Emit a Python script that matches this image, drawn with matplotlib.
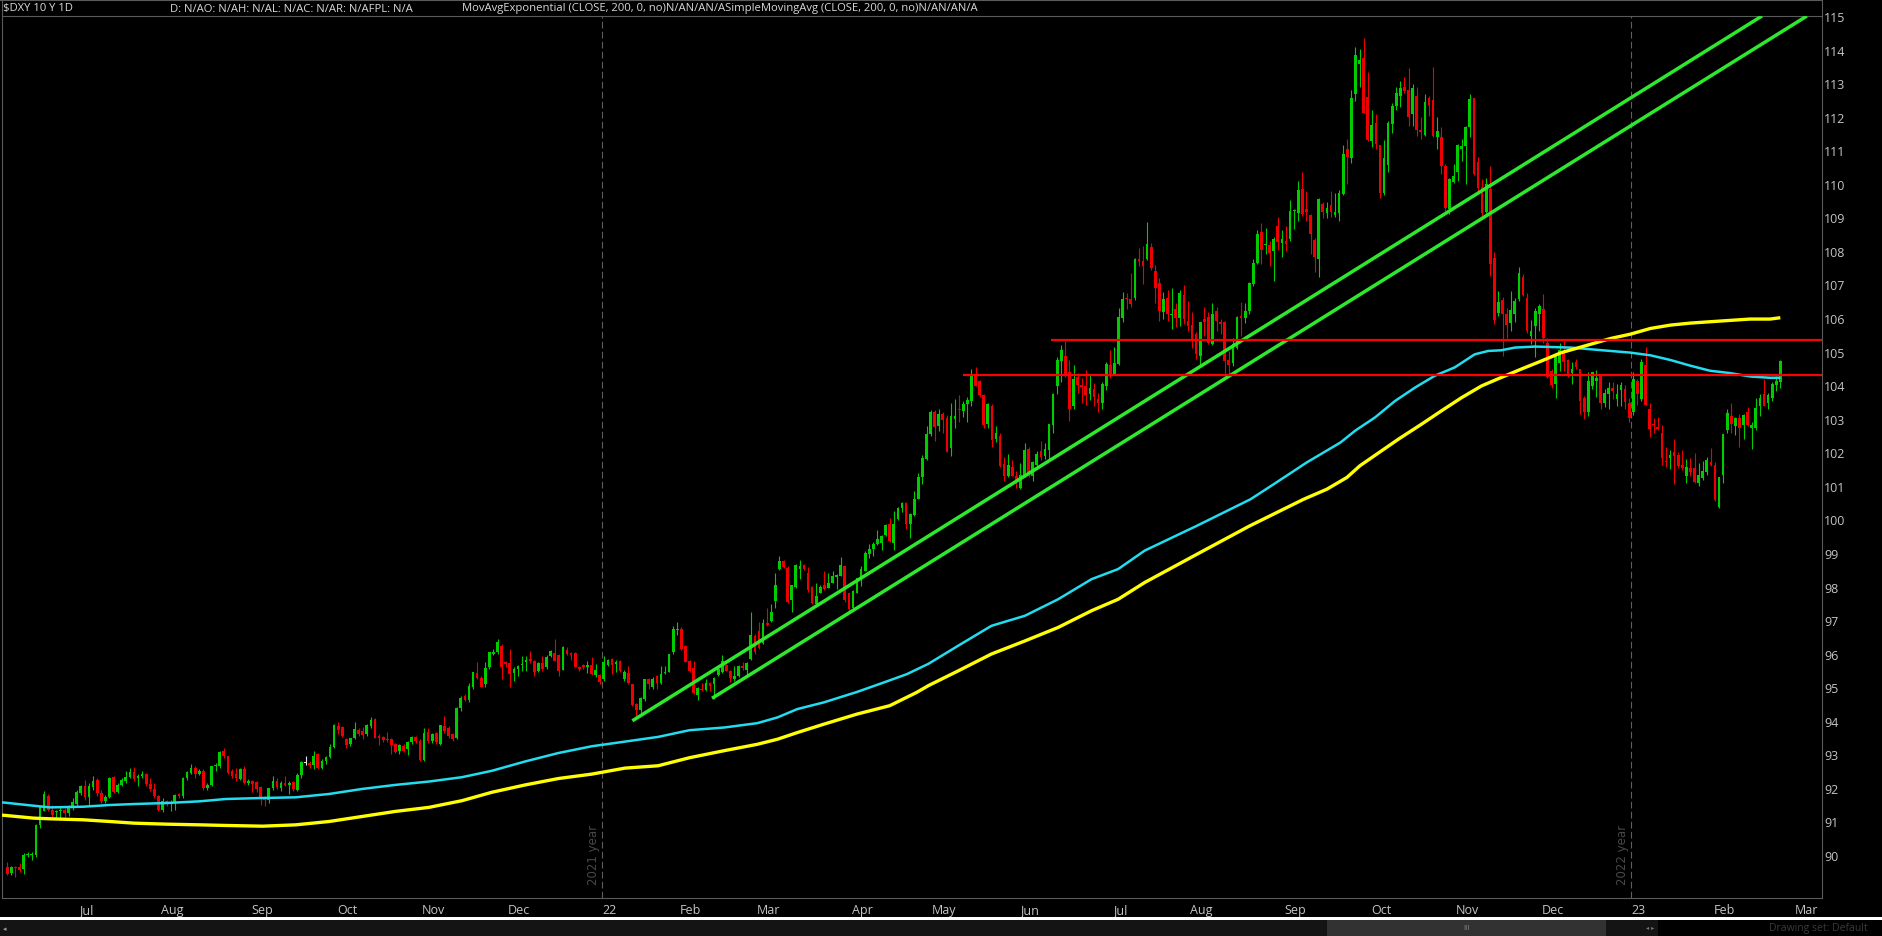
import numpy as np
import pandas as pd
import matplotlib
matplotlib.use("Agg")
import matplotlib.pyplot as plt
from matplotlib.patches import Rectangle
from matplotlib.lines import Line2D

plt.rcParams['font.family'] = ['Liberation Sans Narrow', 'Open Sans', 'DejaVu Sans']

# ---------------- text ----------------
HEAD_SYMBOL = "$DXY 10 Y 1D"
HEAD_QUOTE = "D: N/AO: N/AH: N/AL: N/AC: N/AR: N/AFPL: N/A"
HEAD_STUDIES = "MovAvgExponential (CLOSE, 200, 0, no)N/AN/AN/ASimpleMovingAvg (CLOSE, 200, 0, no)N/AN/AN/A"
YEAR_TEXT = ["2021 year", "2022 year"]
Y_TICKS = list(range(90, 116))

# ---------------- calendar ----------------
FIRST_DAY = "2021-06-07"
LAST_AXIS_DAY = "2023-03-31"
HOLIDAYS = ["2021-07-05", "2021-09-06", "2021-11-25", "2021-12-24", "2022-01-17",
            "2022-02-21", "2022-04-15", "2022-05-30", "2022-07-04", "2022-09-05",
            "2022-11-24", "2022-12-26", "2023-01-02"]

# ---------------- daily OHLC ----------------
OPEN = [
89.63, 89.46, 89.63, 89.63, 89.57, 90.00, 90.00, 90.00, 90.90, 91.32,
91.75, 91.35, 91.27, 91.30, 91.35, 91.25, 91.40, 91.52, 91.85, 92.07,
91.72, 92.02, 92.25, 91.85, 91.60, 91.72, 92.32, 91.89, 92.09, 92.20,
92.32, 92.47, 92.30, 92.35, 92.42, 92.12, 91.97, 91.75, 91.35, 91.60,
91.55, 91.55, 91.82, 91.75, 92.29, 92.45, 92.60, 92.40, 92.50, 92.00,
92.10, 92.64, 92.66, 93.09, 92.94, 92.49, 92.41, 92.27, 92.56, 92.15,
92.22, 92.19, 92.02, 91.72, 91.65, 92.00, 92.22, 92.00, 92.15, 92.10,
92.17, 91.95, 92.38, 92.75, 92.74, 92.68, 93.00, 92.59, 92.79, 92.91,
93.21, 93.85, 93.83, 93.46, 93.31, 93.49, 93.73, 93.71, 93.60, 93.85,
94.05, 93.56, 93.51, 93.47, 93.46, 93.31, 93.10, 93.26, 93.16, 93.36,
93.51, 93.40, 92.83, 93.68, 93.41, 93.64, 93.31, 93.85, 93.80, 93.61,
93.49, 94.37, 94.73, 94.63, 95.00, 95.42, 95.29, 95.09, 95.59, 95.98,
96.04, 96.23, 95.74, 95.72, 95.42, 95.54, 95.66, 95.74, 95.84, 95.79,
95.49, 95.72, 95.59, 95.92, 96.02, 95.96, 95.52, 96.12, 96.02, 96.02,
95.59, 95.66, 95.60, 95.66, 95.36, 95.36, 95.24, 95.66, 95.84, 95.69,
95.79, 95.26, 95.42, 95.09, 94.50, 94.33, 94.65, 95.24, 95.00, 95.32,
95.14, 95.42, 95.46, 96.04, 96.71, 96.75, 96.22, 95.79, 95.56, 94.77,
94.96, 94.92, 95.14, 95.09, 95.36, 95.44, 95.66, 95.49, 95.26, 95.34,
95.64, 95.52, 95.84, 96.53, 96.68, 96.33, 96.91, 96.98, 97.57, 98.52,
98.76, 98.55, 97.60, 98.00, 98.52, 98.64, 98.40, 98.00, 97.48, 97.82,
98.04, 97.97, 98.12, 98.27, 98.32, 98.60, 97.80, 97.35, 97.82, 98.24,
98.47, 98.97, 99.13, 99.26, 99.31, 99.53, 99.86, 99.31, 100.01, 100.33,
100.50, 99.86, 100.13, 100.62, 101.25, 101.80, 102.54, 103.19, 102.79, 103.14,
103.01, 102.14, 102.99, 103.30, 103.23, 103.43, 103.53, 104.28, 104.13, 103.70,
102.84, 103.38, 102.41, 102.49, 101.65, 101.28, 101.55, 101.28, 100.95, 101.28,
102.09, 101.28, 101.62, 102.03, 101.90, 102.07, 102.81, 103.98, 104.73, 104.87,
104.38, 103.38, 104.23, 104.00, 103.98, 103.73, 103.90, 103.58, 103.46, 103.98,
104.60, 104.33, 104.63, 105.99, 106.61, 106.56, 106.61, 107.77, 107.70, 107.77,
108.13, 107.41, 107.04, 106.18, 106.61, 106.09, 106.27, 105.99, 106.68, 105.92,
105.79, 105.52, 104.87, 105.97, 106.02, 105.22, 106.20, 105.89, 105.87, 104.75,
104.66, 105.12, 106.05, 105.99, 106.20, 107.01, 107.65, 108.55, 108.17, 108.17,
108.00, 108.73, 108.25, 108.30, 108.35, 109.19, 109.12, 109.86, 109.26, 109.06,
108.33, 107.77, 109.39, 109.12, 109.36, 109.06, 109.12, 109.69, 111.03, 110.78,
112.67, 113.58, 113.74, 112.59, 111.28, 111.80, 111.16, 109.74, 110.56, 111.78,
112.32, 112.62, 112.89, 112.79, 112.09, 112.62, 111.60, 111.46, 112.55, 112.49,
111.40, 111.38, 110.53, 109.24, 110.04, 110.34, 111.03, 111.13, 111.68, 112.55,
110.66, 109.91, 109.17, 109.84, 107.80, 106.16, 106.53, 106.11, 105.84, 106.11,
106.56, 107.23, 106.61, 105.47, 105.77, 106.13, 106.26, 105.27, 104.43, 104.03,
104.67, 105.02, 104.74, 104.36, 104.68, 104.48, 103.63, 103.19, 103.98, 104.13,
104.28, 103.46, 103.73, 103.93, 103.60, 103.86, 103.90, 103.48, 103.20, 104.13,
103.58, 104.60, 103.29, 102.84, 102.76, 102.59, 101.75, 101.82, 102.00, 101.91,
101.62, 101.28, 101.52, 101.52, 101.08, 101.22, 101.42, 101.72, 101.62, 100.36,
101.32, 102.67, 103.07, 102.79, 103.01, 102.81, 103.19, 102.71, 102.71, 103.38,
103.73, 103.46, 103.63, 104.00, 104.08]

HIGH = [
89.78, 89.66, 89.66, 89.75, 90.06, 90.08, 90.10, 90.93, 91.45, 91.92,
91.82, 91.50, 91.35, 91.45, 91.40, 91.50, 91.70, 91.95, 92.10, 92.25,
92.15, 92.35, 92.30, 91.95, 91.80, 92.32, 92.35, 92.15, 92.30, 92.50,
92.60, 92.62, 92.40, 92.50, 92.45, 92.30, 92.15, 91.80, 91.70, 91.65,
91.65, 91.82, 91.85, 92.32, 92.50, 92.70, 92.65, 92.55, 92.55, 92.15,
92.66, 92.75, 93.10, 93.20, 92.95, 92.55, 92.60, 92.60, 92.66, 92.27,
92.25, 92.20, 92.05, 91.75, 92.00, 92.35, 92.30, 92.20, 92.37, 92.20,
92.20, 92.45, 92.80, 92.95, 92.80, 93.10, 93.05, 92.85, 92.96, 93.30,
93.90, 93.95, 93.85, 93.50, 93.50, 93.95, 93.80, 93.83, 93.90, 94.10,
94.08, 93.60, 93.55, 93.68, 93.50, 93.33, 93.30, 93.30, 93.40, 93.55,
93.55, 93.45, 93.80, 93.80, 93.65, 93.68, 93.88, 94.13, 93.85, 93.63,
94.40, 94.75, 94.80, 95.13, 95.45, 95.76, 95.32, 95.74, 96.06, 96.14,
96.45, 96.30, 95.78, 96.14, 95.60, 95.66, 95.94, 95.94, 96.09, 95.82,
95.75, 95.94, 95.95, 96.12, 96.43, 96.00, 96.22, 96.19, 96.05, 96.05,
95.62, 95.70, 95.79, 95.89, 95.69, 95.40, 95.94, 95.85, 95.87, 95.80,
95.82, 95.50, 95.62, 95.10, 94.52, 94.70, 95.26, 95.29, 95.30, 95.35,
95.62, 95.64, 96.00, 96.83, 96.95, 96.78, 96.25, 95.82, 95.79, 95.00,
95.14, 95.24, 95.16, 95.30, 95.56, 95.96, 95.70, 95.52, 95.62, 95.66,
95.76, 95.74, 97.25, 96.60, 96.93, 97.03, 97.35, 97.48, 98.40, 98.92,
98.80, 98.60, 98.06, 98.66, 98.80, 98.68, 98.57, 98.02, 98.12, 98.04,
98.47, 98.40, 98.47, 98.36, 98.87, 98.62, 97.82, 97.90, 98.26, 98.62,
99.06, 99.26, 99.33, 99.69, 99.53, 99.85, 100.03, 100.26, 100.36, 100.52,
100.52, 100.20, 100.85, 101.38, 101.91, 102.79, 103.25, 103.25, 103.28, 103.20,
103.10, 103.48, 103.60, 103.70, 103.53, 103.66, 104.48, 104.53, 104.15, 103.73,
103.46, 103.43, 102.79, 102.57, 101.85, 101.95, 101.78, 101.45, 101.68, 102.27,
102.15, 101.75, 102.03, 102.34, 102.29, 102.84, 103.78, 104.83, 105.19, 105.32,
104.75, 104.60, 104.36, 104.20, 104.46, 104.30, 104.06, 103.76, 104.10, 104.68,
105.05, 105.15, 106.31, 106.78, 106.76, 107.34, 107.80, 108.10, 108.15, 108.85,
108.25, 107.57, 107.18, 106.78, 106.84, 106.91, 106.44, 106.84, 106.98, 106.51,
106.17, 105.59, 105.89, 106.34, 106.17, 106.46, 106.34, 105.97, 105.92, 105.02,
105.42, 106.07, 106.48, 106.44, 107.08, 107.75, 108.63, 108.83, 108.67, 108.30,
108.43, 109.02, 108.63, 108.75, 109.52, 109.26, 110.09, 110.34, 109.79, 109.09,
108.40, 109.59, 109.46, 109.46, 109.79, 109.72, 109.82, 111.15, 111.35, 112.80,
114.09, 114.01, 114.34, 113.34, 112.19, 112.09, 111.16, 111.30, 111.86, 112.42,
112.87, 113.05, 113.17, 113.46, 112.97, 112.87, 112.00, 112.67, 112.62, 113.48,
112.00, 111.68, 110.58, 110.17, 110.58, 111.20, 111.33, 111.73, 112.69, 112.55,
110.80, 110.14, 110.17, 110.53, 107.98, 106.81, 106.63, 106.29, 106.81, 106.59,
107.52, 107.30, 106.76, 105.94, 106.31, 106.41, 106.73, 105.42, 104.48, 104.97,
105.27, 105.32, 104.77, 104.68, 104.79, 104.48, 103.68, 104.40, 104.40, 104.46,
104.30, 103.88, 104.08, 104.08, 104.03, 104.08, 104.00, 103.63, 104.38, 104.18,
104.79, 105.15, 103.46, 103.01, 103.04, 102.81, 102.17, 102.07, 102.41, 102.00,
102.07, 101.80, 101.82, 101.97, 101.68, 101.75, 101.85, 102.14, 101.72, 101.25,
102.54, 103.30, 103.48, 103.04, 103.14, 103.14, 103.36, 102.91, 103.63, 103.73,
104.18, 103.78, 104.08, 104.26, 104.75]

LOW = [
89.40, 89.42, 89.34, 89.50, 89.45, 89.95, 89.85, 89.95, 90.80, 91.30,
91.30, 91.10, 91.10, 91.10, 91.12, 91.15, 91.35, 91.45, 91.80, 91.65,
91.50, 91.95, 91.75, 91.55, 91.55, 91.70, 91.85, 91.85, 92.05, 92.15,
92.30, 92.20, 92.05, 92.30, 92.05, 91.90, 91.70, 91.30, 91.27, 91.45,
91.30, 91.35, 91.70, 91.70, 92.25, 92.40, 92.30, 92.38, 91.95, 91.95,
92.05, 92.50, 92.60, 92.90, 92.40, 92.30, 92.20, 92.25, 92.12, 92.09,
91.89, 91.87, 91.50, 91.45, 91.55, 91.95, 91.98, 91.90, 92.05, 91.82,
91.90, 91.90, 92.30, 92.68, 92.60, 92.55, 92.55, 92.55, 92.70, 92.88,
93.18, 93.62, 93.52, 93.18, 93.25, 93.45, 93.55, 93.45, 93.55, 93.80,
93.48, 93.28, 93.38, 93.36, 93.01, 93.05, 93.00, 93.08, 92.98, 93.30,
93.35, 92.80, 92.80, 93.35, 93.35, 93.30, 93.28, 93.65, 93.50, 93.40,
93.45, 94.30, 94.60, 94.55, 94.95, 95.25, 95.00, 95.00, 95.55, 95.95,
96.00, 95.26, 95.60, 95.02, 95.19, 95.32, 95.49, 95.49, 95.72, 95.34,
95.45, 95.49, 95.55, 95.90, 95.77, 95.34, 95.50, 95.95, 95.82, 95.59,
95.49, 95.55, 95.42, 95.36, 95.30, 95.10, 95.20, 95.62, 95.39, 95.46,
95.45, 95.20, 95.10, 94.45, 94.13, 94.15, 94.60, 94.96, 94.96, 94.96,
95.10, 95.40, 95.44, 96.00, 96.55, 96.12, 95.74, 95.45, 94.80, 94.63,
94.89, 94.90, 94.89, 94.65, 95.34, 95.42, 95.47, 95.16, 95.19, 95.30,
95.52, 95.34, 95.80, 96.00, 96.15, 96.30, 96.82, 96.95, 97.35, 98.50,
98.55, 97.50, 97.23, 97.97, 98.22, 98.50, 97.85, 97.48, 97.45, 97.80,
97.90, 97.95, 98.10, 97.92, 98.30, 97.55, 97.23, 97.30, 97.80, 98.02,
98.45, 98.84, 98.90, 99.24, 99.10, 99.50, 99.34, 99.10, 99.98, 100.21,
99.71, 99.45, 100.10, 100.60, 101.05, 101.78, 102.50, 102.34, 102.64, 102.59,
102.00, 101.88, 102.71, 102.91, 103.04, 102.89, 103.38, 103.98, 103.66, 102.71,
102.71, 102.17, 102.30, 101.55, 101.15, 101.25, 101.28, 100.95, 100.92, 101.25,
101.25, 101.15, 101.50, 101.78, 101.80, 101.75, 102.59, 103.73, 104.10, 104.23,
102.94, 103.30, 103.76, 103.46, 103.40, 103.56, 103.38, 103.19, 103.30, 103.86,
104.20, 104.30, 104.60, 105.89, 106.26, 106.34, 106.55, 107.55, 107.01, 107.73,
107.44, 106.44, 105.92, 105.97, 105.92, 105.67, 105.72, 105.77, 105.82, 105.62,
105.12, 104.77, 104.57, 105.47, 105.22, 105.19, 105.62, 105.52, 104.23, 104.23,
104.57, 105.07, 105.47, 105.85, 106.12, 106.96, 107.60, 107.60, 107.90, 107.54,
107.11, 108.03, 107.83, 108.00, 108.30, 108.65, 108.90, 109.04, 108.90, 107.90,
107.36, 107.21, 108.97, 108.97, 109.00, 109.00, 108.90, 109.66, 109.99, 110.61,
112.47, 112.89, 112.12, 111.28, 111.10, 111.03, 109.59, 109.67, 110.34, 111.50,
112.19, 112.30, 112.72, 111.73, 111.73, 111.43, 111.33, 111.43, 112.02, 111.40,
111.03, 110.30, 109.19, 109.09, 110.01, 110.09, 110.68, 109.99, 111.40, 110.26,
109.77, 108.99, 109.07, 107.26, 105.82, 106.06, 104.87, 105.40, 105.62, 105.87,
106.51, 106.66, 105.54, 105.22, 104.84, 105.60, 105.27, 104.21, 103.91, 103.63,
104.41, 104.41, 104.25, 104.03, 104.48, 103.14, 102.99, 103.07, 103.88, 103.66,
103.30, 103.36, 103.28, 103.60, 103.38, 103.38, 103.29, 102.91, 103.10, 103.40,
103.53, 103.40, 102.47, 102.59, 102.67, 101.62, 101.55, 101.50, 101.05, 101.52,
101.48, 101.10, 101.28, 101.10, 101.00, 101.18, 101.32, 101.60, 100.55, 100.33,
101.08, 102.59, 102.57, 102.51, 102.17, 102.41, 102.79, 102.11, 102.67, 103.07,
103.38, 103.29, 103.53, 103.83, 103.93]

CLOSE = [
89.44, 89.63, 89.62, 89.54, 90.00, 90.01, 90.02, 90.90, 91.42, 91.82,
91.35, 91.19, 91.28, 91.32, 91.25, 91.47, 91.59, 91.87, 92.05, 91.72,
92.07, 92.20, 91.85, 91.60, 91.72, 92.29, 91.89, 92.09, 92.23, 92.32,
92.47, 92.27, 92.35, 92.42, 92.12, 91.97, 91.75, 91.35, 91.60, 91.55,
91.56, 91.79, 91.75, 92.29, 92.47, 92.60, 92.40, 92.50, 92.00, 92.10,
92.64, 92.66, 93.06, 92.94, 92.45, 92.36, 92.29, 92.56, 92.15, 92.22,
92.12, 91.97, 91.72, 91.65, 92.00, 92.22, 92.02, 92.15, 92.10, 92.14,
91.97, 92.38, 92.76, 92.75, 92.68, 92.96, 92.58, 92.79, 92.91, 93.23,
93.87, 93.73, 93.56, 93.28, 93.48, 93.76, 93.60, 93.59, 93.87, 94.03,
93.50, 93.48, 93.43, 93.44, 93.29, 93.08, 93.27, 93.11, 93.36, 93.51,
93.40, 92.83, 93.64, 93.39, 93.60, 93.36, 93.86, 93.71, 93.56, 93.46,
94.38, 94.68, 94.63, 95.03, 95.44, 95.29, 95.02, 95.56, 96.04, 96.04,
96.35, 95.59, 95.69, 95.39, 95.54, 95.64, 95.67, 95.82, 95.77, 95.46,
95.72, 95.54, 95.89, 96.09, 95.79, 95.49, 96.19, 95.99, 95.96, 95.59,
95.54, 95.60, 95.66, 95.39, 95.52, 95.16, 95.76, 95.82, 95.66, 95.76,
95.49, 95.46, 95.12, 94.47, 94.33, 94.68, 95.24, 95.09, 95.26, 95.14,
95.39, 95.46, 95.99, 96.73, 96.73, 96.14, 95.76, 95.49, 94.83, 94.99,
94.92, 95.14, 95.04, 95.29, 95.54, 95.79, 95.49, 95.29, 95.32, 95.64,
95.56, 95.72, 96.55, 96.04, 96.18, 96.91, 96.85, 97.23, 98.04, 98.76,
98.57, 97.53, 98.04, 98.64, 98.60, 98.52, 97.90, 97.50, 97.72, 98.00,
97.94, 98.12, 98.30, 98.34, 98.64, 97.60, 97.33, 97.87, 98.24, 98.52,
99.00, 99.13, 99.26, 99.43, 99.51, 99.83, 99.36, 99.86, 100.33, 100.50,
99.86, 100.16, 100.62, 101.25, 101.84, 102.54, 103.19, 102.74, 103.14, 102.97,
102.01, 103.07, 103.09, 103.27, 103.43, 103.56, 104.28, 103.98, 103.70, 102.81,
103.43, 102.37, 102.57, 101.60, 101.28, 101.62, 101.28, 101.15, 101.32, 102.07,
101.28, 101.70, 101.95, 101.85, 102.09, 102.84, 103.73, 104.75, 105.06, 104.33,
103.30, 104.18, 104.00, 103.96, 103.70, 103.93, 103.66, 103.48, 104.03, 104.63,
104.28, 104.66, 106.02, 106.58, 106.56, 106.41, 107.75, 107.70, 107.56, 108.20,
107.50, 106.91, 106.21, 106.58, 106.12, 106.10, 105.99, 106.74, 105.97, 105.75,
105.37, 104.92, 105.89, 105.89, 105.27, 106.12, 105.92, 105.82, 104.72, 104.60,
105.22, 106.02, 105.99, 106.20, 107.04, 107.65, 108.50, 108.03, 108.18, 107.95,
108.37, 108.27, 108.37, 108.20, 109.19, 109.20, 109.82, 109.09, 109.16, 108.49,
107.83, 109.56, 109.16, 109.29, 109.16, 109.16, 109.74, 110.88, 110.81, 112.57,
113.85, 113.68, 112.12, 111.30, 111.76, 111.18, 109.74, 110.76, 111.80, 112.32,
112.72, 112.85, 112.77, 111.99, 112.85, 111.60, 111.53, 112.45, 112.35, 111.43,
111.56, 110.53, 109.27, 110.14, 110.24, 111.16, 111.13, 111.70, 112.52, 110.30,
109.89, 109.14, 109.99, 107.60, 105.94, 106.49, 106.11, 105.80, 106.23, 106.51,
107.33, 106.69, 105.62, 105.62, 106.21, 106.36, 105.40, 104.23, 104.01, 104.90,
105.04, 104.70, 104.28, 104.48, 104.53, 103.53, 103.19, 104.13, 104.38, 104.20,
103.48, 103.78, 103.93, 103.83, 103.73, 104.00, 103.50, 103.01, 104.18, 103.73,
104.68, 103.40, 102.69, 102.81, 102.69, 101.82, 101.70, 101.91, 101.90, 101.58,
101.52, 101.55, 101.42, 101.12, 101.32, 101.45, 101.78, 101.62, 100.58, 101.25,
102.54, 103.17, 102.84, 103.01, 102.71, 103.10, 102.81, 102.81, 103.33, 103.63,
103.38, 103.70, 104.03, 104.13, 104.72]

# ---------------- moving averages (bar index, value) ----------------
EMA_BAR = [-1.3, 6.4, 10.4, 18.6, 25, 31, 39, 47, 53.5, 62.5, 70.6, 78.8, 86.9, 95, 103.2,
           111.3, 118.6, 126.8, 134.9, 143, 151.2, 159.3, 167, 175.5, 183.6, 188.5, 193.4,
           199.9, 208, 214.5, 220.2, 225.5, 232.8, 240.9, 249.1, 257.2, 265.4, 271.9, 278.4,
           291, 304.3, 310, 318.1, 326.3, 330, 334.8, 339.7, 344.6, 349.4, 354.3, 359.2,
           362.5, 365.7, 369, 373.9, 377.1, 382.7, 387.6, 392.4, 397.3, 402.2, 407.1, 412,
           416.8, 421.7, 426.6, 431.5, 434]
EMA_VAL = [91.57, 91.47, 91.42, 91.44, 91.49, 91.52, 91.55, 91.60, 91.67, 91.70, 91.72, 91.82,
           91.97, 92.09, 92.19, 92.32, 92.51, 92.79, 93.04, 93.24, 93.38, 93.52, 93.72, 93.80,
           93.93, 94.10, 94.35, 94.55, 94.86, 95.14, 95.39, 95.70, 96.24, 96.83, 97.13, 97.62,
           98.22, 98.52, 99.07, 99.80, 100.60, 101.05, 101.70, 102.29, 102.65, 103.04, 103.53,
           103.93, 104.28, 104.53, 104.92, 105.02, 105.04, 105.12, 105.15, 105.14, 105.12,
           105.07, 105.02, 104.97, 104.89, 104.75, 104.58, 104.43, 104.36, 104.26, 104.22, 104.22]
SMA_BAR = [-1.3, 6.4, 10.4, 18.6, 25, 31, 39, 47, 54, 62.5, 70.6, 78.8, 86.9, 95, 103.2,
           111.3, 118.6, 126.8, 134.9, 143, 151.2, 159.3, 167, 175.5, 183.6, 188.5, 193.4,
           199.9, 208, 216, 222.5, 225.5, 232.8, 240.9, 249.1, 257.2, 265.4, 271.9, 278.4,
           291, 304, 317.3, 323, 327.9, 331.1, 340.5, 346.2, 351.1, 356, 360.9, 365.7, 370.6,
           375.5, 380.4, 387.6, 392.4, 397.3, 402.2, 407.1, 412, 416.8, 421.7, 426.6, 431.5, 434]
SMA_VAL = [91.19, 91.10, 91.08, 91.05, 91.00, 90.95, 90.92, 90.90, 90.88, 90.86, 90.90, 91.00,
           91.15, 91.30, 91.42, 91.62, 91.87, 92.09, 92.28, 92.41, 92.59, 92.66, 92.90, 93.11,
           93.30, 93.45, 93.65, 93.90, 94.20, 94.45, 94.84, 95.05, 95.49, 95.99, 96.38, 96.78,
           97.28, 97.62, 98.12, 98.95, 99.80, 100.60, 100.90, 101.25, 101.60, 102.39, 102.84,
           103.24, 103.63, 103.98, 104.23, 104.48, 104.72, 104.97, 105.22, 105.39, 105.52,
           105.69, 105.79, 105.85, 105.89, 105.93, 105.97, 105.97, 106.01]

# ---------------- drawings (anchor bar, price) ----------------
TREND_UPPER = [(153.0, 94.00), (429.5, 115.0)]
TREND_LOWER = [(172.5, 94.67), (440.5, 115.0)]
HLINE_LEVELS = [105.34, 104.31]
HLINE_START = [255.5, 233.9]

# ---------------- colours ----------------
UP = '#00cc00'
DOWN = '#ee0000'
FLAT = '#e8e8e8'
EMA_COLOR = '#22dcef'
SMA_COLOR = '#ffff00'
TREND_COLOR = '#2ee82e'
HLINE_COLOR = '#ff0000'
GRID_COLOR = '#5a5a5a'
TEXT_COLOR = '#c4c4c4'

W, H = 1882, 937
fig = plt.figure(figsize=(W / 100, H / 100), dpi=100, facecolor='black')

def fx(px):
    return px / W

def fy(py):
    return 1 - py / H

ax = fig.add_axes([fx(2), fy(899), fx(1820), 882 / H], facecolor='black')

N = min(len(OPEN), len(HIGH), len(LOW), len(CLOSE))
o = np.array(OPEN[:N]); h = np.array(HIGH[:N]); l = np.array(LOW[:N]); c = np.array(CLOSE[:N])
x = np.arange(N)

cols = np.where(c > o, UP, np.where(c < o, DOWN, FLAT))
body_lo = np.minimum(o, c)
body_h = np.maximum(np.abs(c - o), 0.03)

ax.vlines(x, l, h, colors=cols, linewidth=0.8, zorder=2)
ax.bar(x, body_h, bottom=body_lo, width=0.66, color=cols, linewidth=0, zorder=2.5)

ax.plot(EMA_BAR, EMA_VAL, color=EMA_COLOR, lw=1.8, zorder=3, solid_capstyle='butt')
ax.plot(SMA_BAR, SMA_VAL, color=SMA_COLOR, lw=2.4, zorder=3, solid_capstyle='butt')

for seg in (TREND_UPPER, TREND_LOWER):
    (x0, y0), (x1, y1) = seg
    ax.plot([x0, x1], [y0, y1], color=TREND_COLOR, lw=2.5, zorder=4, solid_capstyle='butt')

XMIN, XMAX = -1.3, 444.2
for lev, st in zip(HLINE_LEVELS, HLINE_START):
    ax.hlines(lev, st, XMAX, colors=HLINE_COLOR, lw=1.6, zorder=4)

# calendar -> ticks
ext_days = pd.bdate_range(FIRST_DAY, LAST_AXIS_DAY)
ext_days = ext_days[~ext_days.isin(pd.to_datetime(HOLIDAYS))]
tick_pos, tick_lab, year_pos = [], [], []
prev = None
for i, d in enumerate(ext_days):
    key = (d.year, d.month)
    if prev is not None and key != prev and i + 1.3 < XMAX:
        tick_pos.append(i + 1.3)
        tick_lab.append(d.strftime('%y') if d.month == 1 else d.strftime('%b'))
        if d.month == 1:
            year_pos.append(i - 0.5)
    prev = key

for xp, txt in zip(year_pos, YEAR_TEXT):
    ax.axvline(xp, color='#5e5e5e', lw=0.8, linestyle=(0, (6, 3)), zorder=1)
    ax.text(xp - 2.1, 90.03, txt, rotation=90, ha='center', va='center', color='#484848',
            fontsize=8.5, family=['DejaVu Sans'], zorder=1)

ax.set_xlim(XMIN, XMAX)
ax.set_ylim(88.72, 115.0)
ax.set_xticks(tick_pos)
ax.set_xticklabels(tick_lab)
ax.yaxis.tick_right()
ax.set_yticks(Y_TICKS)
ax.set_yticklabels([str(v) for v in Y_TICKS])
ax.tick_params(axis='both', length=0, colors=TEXT_COLOR, labelsize=9)
ax.tick_params(axis='y', pad=1.5)
ax.tick_params(axis='x', pad=3.5)
for sp in ax.spines.values():
    sp.set_color(GRID_COLOR)
    sp.set_linewidth(0.8)

# frame lines above the plot
fig.add_artist(Line2D([fx(0), fx(1822)], [fy(0.5), fy(0.5)], color=GRID_COLOR, lw=0.8))
fig.add_artist(Line2D([fx(2.4), fx(2.4)], [fy(0), fy(17)], color=GRID_COLOR, lw=0.8))
fig.add_artist(Line2D([fx(1821.6), fx(1821.6)], [fy(0), fy(17)], color=GRID_COLOR, lw=0.8))

# header
fig.text(fx(3), fy(9), HEAD_SYMBOL, color='#d8d8d8', fontsize=8.1, va='center', ha='left')
fig.text(fx(170), fy(9), HEAD_QUOTE, color='#d8d8d8', fontsize=8.1, va='center', ha='left')
fig.text(fx(462), fy(9), HEAD_STUDIES, color='#d8d8d8', fontsize=8.1, va='center', ha='left')

# bottom bar
fig.add_artist(Rectangle((0, fy(920.5)), 1, 3 / H, transform=fig.transFigure,
                         facecolor='white', edgecolor='none'))
fig.add_artist(Rectangle((0, 0), fx(1658), fy(920.5), transform=fig.transFigure,
                         facecolor='#141414', edgecolor='none'))
fig.add_artist(Rectangle((fx(1327), 0), fx(1606 - 1327), fy(920.5), transform=fig.transFigure,
                         facecolor='#323232', edgecolor='none'))
fig.text(fx(1466), fy(929), "III", color='#8a8a8a', fontsize=5.5, ha='center', va='center')
fig.text(fx(5), fy(929), "\u25c2", color='#9a9a9a', fontsize=5, ha='center', va='center',
         family=['DejaVu Sans'])
fig.text(fx(1650), fy(929), "\u25c2 \u25b8", color='#777777', fontsize=4.5, ha='center',
         va='center', family=['DejaVu Sans'])
fig.text(fx(1769), fy(929), "Drawing set: Default", color='#3a3a3a', fontsize=7.5,
         ha='left', va='center')

fig.savefig("out.png", dpi=100, facecolor='black')
